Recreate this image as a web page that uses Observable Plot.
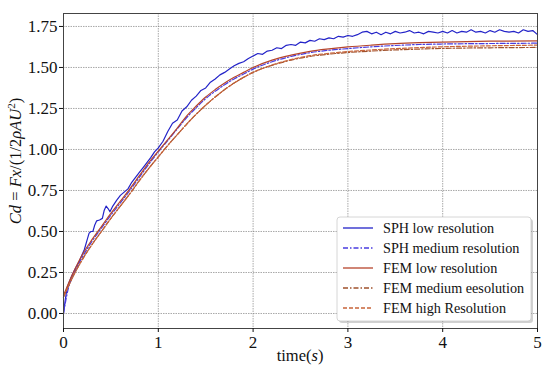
<!DOCTYPE html>
<html>
<head>
<meta charset="utf-8">
<script src="https://cdn.jsdelivr.net/npm/d3@7"></script>
<script src="https://cdn.jsdelivr.net/npm/@observablehq/plot@0.6"></script>
<style>
  html, body { margin: 0; padding: 0; background: #fff; }
  #chart { width: 550px; height: 370px; }
</style>
</head>
<body>
<div id="chart"></div>
<script>
// ---- data ----
const xTicks = [0, 1, 2, 3, 4, 5];
const yTicks = [0, 0.25, 0.5, 0.75, 1.0, 1.25, 1.5, 1.75];

const seriesNames = ["SPH low resolution", "SPH medium resolution", "FEM low resolution", "FEM medium eesolution", "FEM high Resolution"];

const sphLowT = [0,0.02,0.04,0.06,0.08,0.1,0.13,0.16,0.19,0.22,0.25,0.27,0.29,0.31,0.33,0.35,0.38,0.41,0.43,0.45,0.47,0.49,0.52,0.56,0.6,0.64,0.68,0.72,0.76,0.8,0.84,0.88,0.92,0.96,1.0,
  1.05,1.1,1.15,1.2,1.25,1.3,1.35,1.4,1.45,1.5,1.55,1.6,1.65,1.7,1.75,1.8,1.85,1.9,1.95,2.0,
  2.05,2.1,2.15,2.2,2.25,2.3,2.35,2.4,2.45,2.5,2.55,2.6,2.65,2.7,2.75,2.8,2.85,2.9,2.95,3.0,
  3.05,3.1,3.15,3.2,3.25,3.3,3.35,3.4,3.45,3.5,3.55,3.6,3.65,3.7,3.75,3.8,3.85,3.9,3.95,4.0,
  4.05,4.1,4.15,4.2,4.25,4.3,4.35,4.4,4.45,4.5,4.55,4.6,4.65,4.7,4.75,4.8,4.85,4.9,4.95,5.0];
const sphLowV = [0,0.09,0.16,0.19,0.22,0.245,0.28,0.31,0.35,0.39,0.45,0.49,0.5,0.5,0.54,0.565,0.57,0.58,0.63,0.655,0.64,0.62,0.655,0.69,0.72,0.74,0.76,0.8,0.83,0.86,0.89,0.92,0.95,0.985,1.01,
  1.05,1.11,1.16,1.18,1.235,1.26,1.3,1.325,1.36,1.375,1.41,1.43,1.455,1.47,1.49,1.51,1.525,1.535,1.555,1.57,
  1.585,1.58,1.6,1.605,1.62,1.615,1.635,1.64,1.635,1.655,1.65,1.665,1.66,1.675,1.67,1.68,1.675,1.69,1.685,1.695,
  1.69,1.7,1.715,1.72,1.705,1.715,1.7,1.715,1.705,1.72,1.71,1.715,1.725,1.71,1.715,1.705,1.72,1.715,1.71,1.72,
  1.71,1.725,1.71,1.72,1.715,1.73,1.715,1.72,1.71,1.725,1.715,1.73,1.72,1.715,1.72,1.71,1.73,1.72,1.725,1.7];

const smoothT = [0,0.05,0.1,0.2,0.3,0.4,0.5,0.6,0.7,0.8,0.9,1.0,1.1,1.2,1.3,1.4,1.5,1.6,1.7,1.8,1.9,2.0,2.2,2.4,2.6,2.8,3.0,3.25,3.5,3.75,4.0,4.5,5.0];
const sphMedV = [0.0,0.15,0.23,0.345,0.44,0.52,0.6,0.675,0.75,0.83,0.91,0.985,1.055,1.125,1.195,1.255,1.31,1.355,1.395,1.43,1.46,1.49,1.535,1.567,1.59,1.605,1.615,1.626,1.634,1.64,1.643,1.646,1.648];
const femLowV = [0.11,0.18,0.245,0.36,0.45,0.53,0.61,0.685,0.76,0.84,0.92,0.99,1.06,1.13,1.205,1.265,1.32,1.365,1.405,1.44,1.47,1.5,1.545,1.575,1.598,1.613,1.625,1.636,1.645,1.651,1.655,1.66,1.662];
const femMedV = [0.1,0.165,0.225,0.33,0.42,0.5,0.58,0.655,0.73,0.81,0.885,0.955,1.025,1.09,1.155,1.215,1.27,1.32,1.365,1.405,1.44,1.47,1.513,1.545,1.567,1.581,1.591,1.6,1.607,1.612,1.616,1.62,1.622];
const femHighV = [0.1,0.165,0.225,0.33,0.42,0.5,0.58,0.655,0.73,0.81,0.885,0.955,1.025,1.09,1.155,1.215,1.27,1.32,1.365,1.405,1.44,1.47,1.515,1.548,1.572,1.586,1.597,1.607,1.615,1.621,1.626,1.632,1.636];

const colors = ["#2323c8", "#4a3ce0", "#b6452c", "#a0522d", "#c8643a"];
const dashes = [null, "5,2,1.5,2", null, "5,2,1.5,2", "4,2"];

// ---- build tables ----
const rows = (ts, vs, s) => ts.map((t, i) => ({t, v: vs[i], s}));
const allSeries = [
  rows(sphLowT, sphLowV, seriesNames[0]),
  rows(smoothT, sphMedV, seriesNames[1]),
  rows(smoothT, femLowV, seriesNames[2]),
  rows(smoothT, femMedV, seriesNames[3]),
  rows(smoothT, femHighV, seriesNames[4])
];

const lineMarks = allSeries.map((d, i) => Plot.line(d, {
  x: "t", y: "v", stroke: colors[i], strokeWidth: 1.2,
  strokeDasharray: dashes[i] || undefined,
  curve: i === 0 ? "linear" : "monotone-x"
}));

const chart = Plot.plot({
  width: 550,
  height: 370,
  marginLeft: 63,
  marginRight: 13,
  marginTop: 13,
  marginBottom: 42,
  style: { fontFamily: "'Liberation Serif', 'Times New Roman', serif", fontSize: "17px", color: "#111", background: "#fff" },
  x: { domain: [0, 5], ticks: xTicks, tickFormat: d3.format("d"), tickSize: 4, tickPadding: 3, label: null },
  y: { domain: [-0.0915, 1.829], ticks: yTicks, tickFormat: d3.format(".2f"), tickSize: 4, tickPadding: 2, label: null },
  marks: [
    Plot.gridX(xTicks, { stroke: "#777", strokeOpacity: 0.8, strokeWidth: 0.8, strokeDasharray: "1.5,1" }),
    Plot.gridY(yTicks, { stroke: "#777", strokeOpacity: 0.8, strokeWidth: 0.8, strokeDasharray: "1.5,1" }),
    ...lineMarks,
    Plot.frame({ stroke: "#444", strokeWidth: 1 }),
    Plot.axisX(xTicks, { tickSize: 4, tickPadding: 3, tickFormat: d3.format("d"), label: null }),
    Plot.axisY(yTicks, { tickSize: 4, tickPadding: 2, tickFormat: d3.format(".2f"), label: null })
  ]
});

document.getElementById("chart").appendChild(chart);

// ---- axis labels and legend (text kept as real SVG text) ----
const svg = d3.select(chart);
const serif = "'Liberation Serif', 'Times New Roman', serif";
svg.selectAll("g[aria-label$='tick label']").attr("font-size", 17);

const xl = svg.append("text")
  .attr("x", 300).attr("y", 361)
  .attr("text-anchor", "middle")
  .attr("font-family", serif).attr("font-size", 16.5).attr("fill", "#111");
xl.append("tspan").text("time(");
xl.append("tspan").attr("font-style", "italic").text("s");
xl.append("tspan").text(")");

const yl = svg.append("text")
  .attr("transform", "translate(21,161) rotate(-90)")
  .attr("text-anchor", "middle")
  .attr("font-family", serif).attr("font-size", 16.5).attr("fill", "#111");
yl.append("tspan").attr("font-style", "italic").text("Cd");
yl.append("tspan").text(" = ");
yl.append("tspan").attr("font-style", "italic").text("Fx");
yl.append("tspan").text("/(1/2");
yl.append("tspan").attr("font-style", "italic").text("ρAU");
yl.append("tspan").attr("font-size", 11).attr("dy", -6).text("2");
yl.append("tspan").attr("dy", 6).text(")");

// legend
const lg = svg.append("g").attr("text-anchor", "start");
lg.append("rect").attr("x", 339).attr("y", 219).attr("width", 194).attr("height", 104)
  .attr("rx", 3).attr("fill", "#000").attr("fill-opacity", 0.18);
lg.append("rect").attr("x", 337).attr("y", 217).attr("width", 194).attr("height", 104)
  .attr("rx", 3).attr("fill", "#fff").attr("stroke", "#ccc").attr("stroke-width", 0.8);
seriesNames.forEach((name, i) => {
  const yy = 228 + i * 20;
  const ln = lg.append("line").attr("x1", 343).attr("x2", 373).attr("y1", yy).attr("y2", yy)
    .attr("stroke", colors[i]).attr("stroke-width", 1.3);
  if (dashes[i]) ln.attr("stroke-dasharray", dashes[i]);
  lg.append("text").attr("x", 383).attr("y", yy + 4.5).attr("text-anchor", "start")
    .attr("font-family", serif).attr("font-size", 14.2).attr("fill", "#111").text(name);
});
</script>
</body>
</html>
